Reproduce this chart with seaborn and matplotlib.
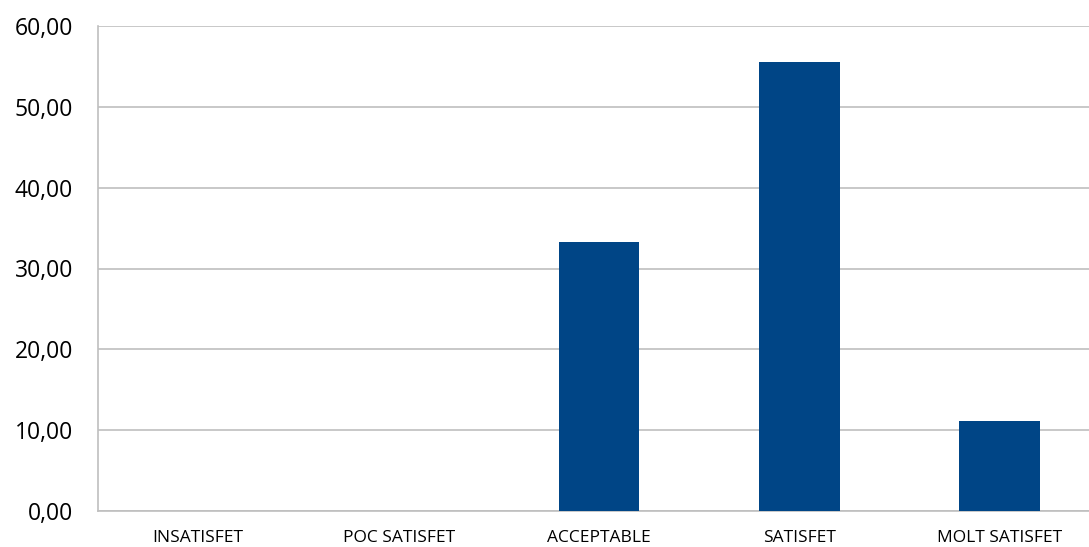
import matplotlib
matplotlib.use("Agg")
import matplotlib.pyplot as plt
import seaborn as sns
import pandas as pd
from matplotlib.ticker import FuncFormatter

categories = ["INSATISFET", "POC SATISFET", "ACCEPTABLE", "SATISFET", "MOLT SATISFET"]
values = [0.0, 0.0, 33.33, 55.56, 11.11]

df = pd.DataFrame({"cat": categories, "val": values})

sns.set_theme(style="white")
plt.rcParams["font.family"] = ["Open Sans", "DejaVu Sans"]

fig = plt.figure(figsize=(10.89, 5.47), dpi=100)
ax = fig.add_axes([98/1089, 36/547, 1 - 98/1089, (511-26)/547])

sns.barplot(data=df, x="cat", y="val", color="#004586", saturation=1,
            width=0.404, ax=ax, zorder=3, edgecolor="#004586", linewidth=0)

ax.set_xlim(-0.5, 4.445)
ax.set_ylim(0, 60)
ax.set_yticks(range(0, 61, 10))
ax.yaxis.set_major_formatter(FuncFormatter(lambda v, p: f"{v:.2f}".replace(".", ",")))
ax.grid(axis="y", color="#BFBFBF", linewidth=1.2, zorder=0)
ax.set_xlabel("")
ax.set_ylabel("")
for s in ["top", "right"]:
    ax.spines[s].set_visible(False)
for s in ["left", "bottom"]:
    ax.spines[s].set_color("#BFBFBF")
    ax.spines[s].set_linewidth(1.2)
ax.tick_params(axis="y", labelsize=16.5, colors="black", length=0, pad=18)
ax.tick_params(axis="x", labelsize=12.5, colors="black", length=0, pad=14)

fig.savefig("out.png", dpi=100)
